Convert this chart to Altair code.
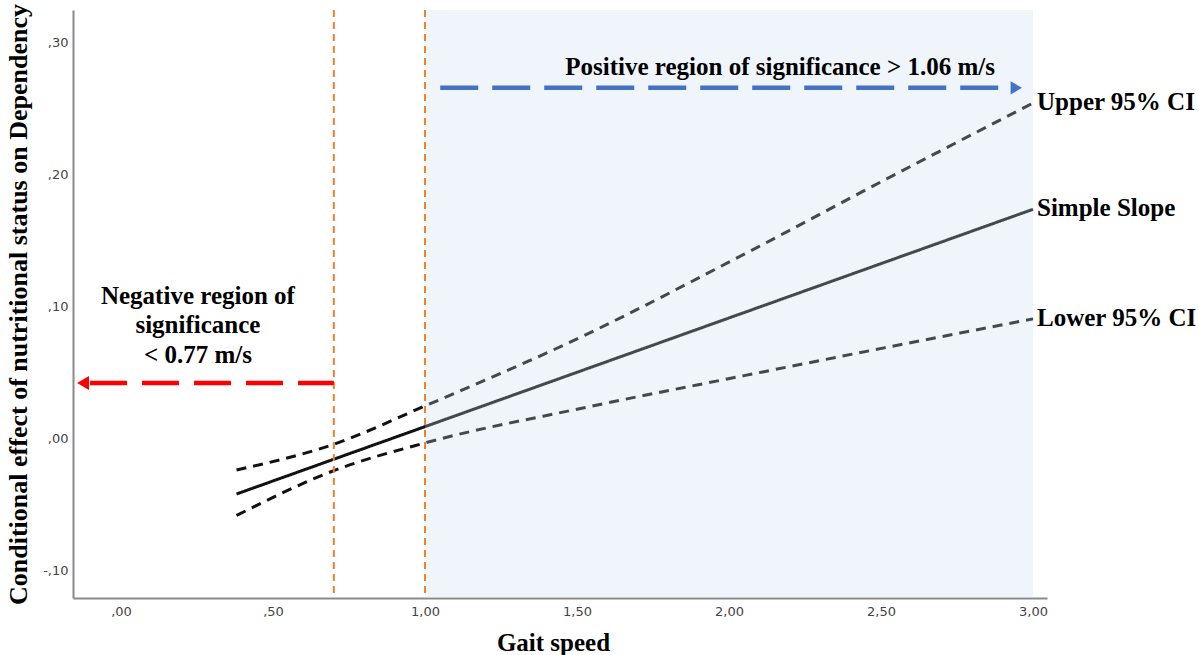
import altair as alt
import pandas as pd

# ---- data ----
slope_x = [0.38, 3.00]
slope_y = [-0.0417, 0.174]

ci_x = [0.38, 0.70, 1.00, 1.52, 2.05, 2.51, 3.00]
upper_ci = [-0.0235, -0.004, 0.025, 0.078, 0.140, 0.196, 0.2545]
lower_ci = [-0.058, -0.024, -0.003, 0.0235, 0.048, 0.069, 0.091]

boundary_x = [0.70, 1.00]          # drawn JN boundaries
shade_x = [1.00, 3.00]             # shaded positive region

x_ticks = [0.0, 0.5, 1.0, 1.5, 2.0, 2.5, 3.0]
y_ticks = [-0.1, 0.0, 0.1, 0.2, 0.3]

series_names = ["Upper 95% CI", "Simple Slope", "Lower 95% CI"]
pos_text = "Positive region of significance > 1.06 m/s"
neg_text = ["Negative region of", "significance", "< 0.77 m/s"]
x_title = "Gait speed"
y_title = "Conditional effect of nutritional status on Dependency"

# ---- tables ----
rows = []
for xv, yv in zip(slope_x, slope_y):
    rows.append({"x": xv, "y": yv, "series": "Simple Slope"})
for xv, yv in zip(ci_x, upper_ci):
    rows.append({"x": xv, "y": yv, "series": "Upper 95% CI"})
for xv, yv in zip(ci_x, lower_ci):
    rows.append({"x": xv, "y": yv, "series": "Lower 95% CI"})
lines_df = pd.DataFrame(rows)

bound_df = pd.DataFrame({"x": boundary_x})
shade_df = pd.DataFrame({"x": [shade_x[0]], "x2": [shade_x[1]]})
end_df = pd.DataFrame({
    "x": [3.0, 3.0, 3.0],
    "y": [upper_ci[-1], slope_y[-1], lower_ci[-1]],
    "label": series_names,
})

SERIF = "Liberation Serif"
X_DOMAIN = [-0.158, 3.046]
Y_DOMAIN = [-0.1205, 0.325]

label_expr = ("(datum.value < 0 ? '-' : '') + (abs(datum.value) < 1 ? ',' + "
              "substring(format(abs(datum.value), '.2f'), 2) : "
              "replace(format(abs(datum.value), '.2f'), '.', ','))")

xscale = alt.Scale(domain=X_DOMAIN, nice=False, zero=False)
yscale = alt.Scale(domain=Y_DOMAIN, nice=False, zero=False)

x_enc = alt.X("x:Q", scale=xscale, axis=alt.Axis(
    values=x_ticks, labelExpr=label_expr, ticks=False, grid=False,
    domainColor="#8a8a8a", domainWidth=2, labelColor="#444444",
    labelFont="DejaVu Sans", labelFontSize=13, labelPadding=7,
    title=x_title, titleFont=SERIF, titleFontSize=25, titleFontWeight="bold",
    titleColor="black", titleX=480, titleY=44, titleBaseline="middle",
    titleAlign="center"))
y_enc = alt.Y("y:Q", scale=yscale, axis=alt.Axis(
    values=y_ticks, labelExpr=label_expr, ticks=False, grid=False,
    domainColor="#8a8a8a", domainWidth=2, labelColor="#444444",
    labelFont="DejaVu Sans", labelFontSize=13, labelPadding=5,
    title=y_title, titleFont=SERIF, titleFontSize=26, titleFontWeight="bold",
    titleColor="black", titleX=-55, titleY=294, titleAngle=-90,
    titleBaseline="middle", titleAlign="center"))

lines = alt.Chart(lines_df).mark_line(
    strokeWidth=3, color="#111111", interpolate="monotone").encode(
    x=x_enc, y=y_enc,
    detail="series:N",
    strokeDash=alt.StrokeDash("series:N", scale=alt.Scale(
        domain=series_names, range=[[10, 7], [1, 0], [10, 7]]), legend=None),
)

shade = alt.Chart(shade_df).mark_rect(color="#c5dbf2", opacity=0.28).encode(
    x=alt.X("x:Q", scale=xscale), x2="x2:Q",
    y=alt.value(0), y2=alt.value(588),
)

bounds = alt.Chart(bound_df).mark_rule(
    color="#f0812a", strokeWidth=2, strokeDash=[7, 5]).encode(
    x=alt.X("x:Q", scale=xscale))

one = alt.Data(values=[{}])

red_arrow = alt.Chart(one).mark_rule(
    color="#ff0000", strokeWidth=4.5, strokeDash=[37, 15]).encode(
    x=alt.datum(-0.102, scale=xscale), x2=alt.datum(0.70),
    y=alt.datum(0.0424, scale=yscale))
red_head = alt.Chart(one).mark_point(
    shape="triangle-left", filled=True, size=190, color="#ff0000", opacity=1).encode(
    x=alt.datum(-0.125, scale=xscale), y=alt.datum(0.0424, scale=yscale))

blue_arrow = alt.Chart(one).mark_rule(
    color="#4472c4", strokeWidth=4.5, strokeDash=[38, 14]).encode(
    x=alt.datum(1.05, scale=xscale), x2=alt.datum(2.915),
    y=alt.datum(0.266, scale=yscale))
blue_head = alt.Chart(one).mark_point(
    shape="triangle-right", filled=True, size=170, color="#4472c4", opacity=1).encode(
    x=alt.datum(2.945, scale=xscale), y=alt.datum(0.266, scale=yscale))

pos_label = alt.Chart(one).mark_text(
    font=SERIF, fontSize=25, fontWeight="bold", color="black",
    align="center", baseline="alphabetic").encode(
    x=alt.datum(2.168, scale=xscale), y=alt.datum(0.2758, scale=yscale),
    text=alt.value(pos_text))

neg_label = alt.Chart(one).mark_text(
    font=SERIF, fontSize=25, fontWeight="bold", color="black",
    align="center", baseline="alphabetic", lineHeight=29.5).encode(
    x=alt.datum(0.253, scale=xscale), y=alt.datum(0.1023, scale=yscale),
    text=alt.value(neg_text))

end_labels = alt.Chart(end_df).mark_text(
    font=SERIF, fontSize=25, fontWeight="bold", color="black",
    align="left", baseline="middle", dx=4, dy=-1).encode(
    x=alt.X("x:Q", scale=xscale), y=alt.Y("y:Q", scale=yscale),
    text="label:N")

chart = alt.layer(
    lines, shade, bounds, red_arrow, red_head, blue_arrow, blue_head,
    pos_label, neg_label, end_labels
).properties(
    width=974, height=588,
    autosize=alt.AutoSizeParams(type="none"),
    padding={"left": 73, "top": 10, "right": 152, "bottom": 57},
    background="white",
).configure_view(stroke=None)

chart.save("out.html", embed_options={"renderer": "svg", "actions": False})
